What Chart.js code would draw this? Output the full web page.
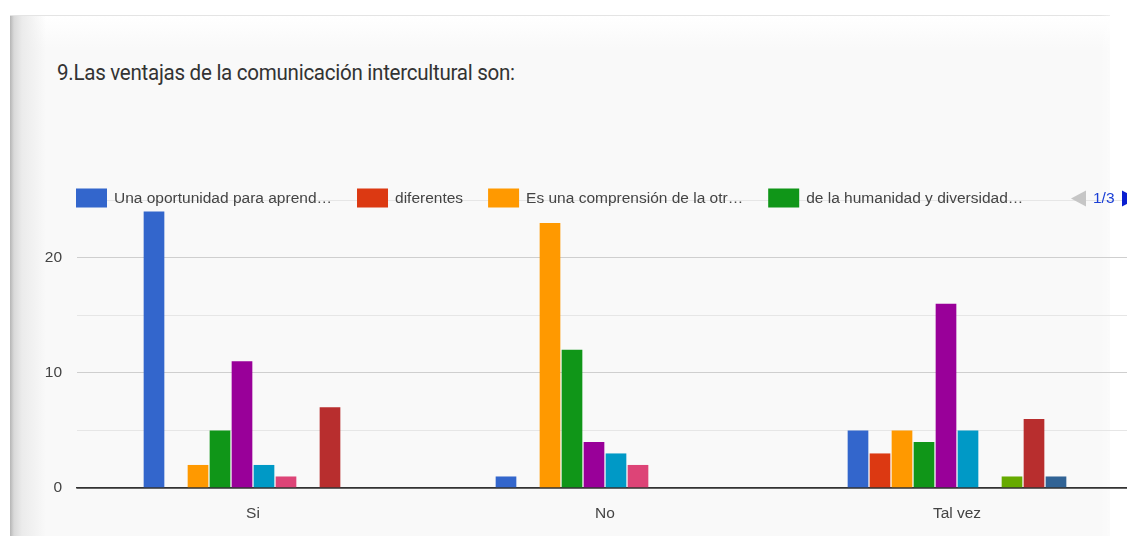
<!DOCTYPE html>
<html>
<head>
<meta charset="utf-8">
<script src="https://cdn.jsdelivr.net/npm/chart.js@4/dist/chart.umd.min.js"></script>
<style>
  html, body { margin: 0; padding: 0; background: #fff; overflow: hidden; }
  body { width: 1127px; height: 536px; position: relative; }
  .card { position: absolute; left: 10px; top: 15px; width: 1100px; height: 521px;
          background: #f9f9f9; border-top: 1px solid #e4e4e4; }
  .card-top { position: absolute; left: 10px; top: 16px; width: 1100px; height: 32px;
              background: linear-gradient(to bottom, #ffffff, #f9f9f9); }
  .card-left { position: absolute; left: 10px; top: 16px; width: 36px; height: 520px;
               background: linear-gradient(to right, #b5b5b5 0, #d9d9d9 4px, #ebebeb 12px, rgba(249,249,249,0) 36px); }
  .card-right { position: absolute; left: 1100px; top: 15px; width: 27px; height: 521px;
                background: linear-gradient(to right, rgba(255,255,255,0), #fff); }
  h1 { position: absolute; left: 57px; top: 60px; margin: 0; font: 400 22px Roboto, sans-serif;
       color: #333; letter-spacing: -0.3px; transform: scaleX(0.935); transform-origin: left center;
       white-space: nowrap; }
  canvas { position: absolute; left: 0; top: 0; }
</style>
</head>
<body>
<div class="card"></div>
<div class="card-top"></div>
<div class="card-left"></div>
<div class="card-right"></div>
<h1>9.Las ventajas de la comunicación intercultural son:</h1>
<canvas id="chart" width="1133" height="536"></canvas>
<script>
// categories on the x axis
const categories = ['Si', 'No', 'Tal vez'];

// legend labels (only page 1/3 is visible in the original)
const seriesLabels = [
  'Una oportunidad para aprend…',
  'diferentes',
  'Es una comprensión de la otr…',
  'de la humanidad y diversidad…',
  'Opción 5', 'Opción 6', 'Opción 7', 'Opción 8', 'Opción 9', 'Opción 10'
];

// counts per series, in order Si / No / Tal vez
const s1 = [24, 1, 5];
const s2 = [0, 0, 3];
const s3 = [2, 23, 5];
const s4 = [5, 12, 4];
const s5 = [11, 4, 16];
const s6 = [2, 3, 5];
const s7 = [1, 2, 0];
const s8 = [0, 0, 1];
const s9 = [7, 0, 6];
const s10 = [0, 0, 1];
const seriesValues = [s1, s2, s3, s4, s5, s6, s7, s8, s9, s10];

const colors = ['#3366cc', '#dc3912', '#ff9900', '#109618', '#990099',
                '#0099c6', '#dd4477', '#66aa00', '#b82e2e', '#316395'];

const yTicksShown = [0, 10, 20];

// google-style paged legend, drawn over the top gridline
const pagedLegend = {
  id: 'pagedLegend',
  afterDatasetsDraw(chart) {
    const ctx = chart.ctx;
    const y = 198.5;
    let x = 76;
    ctx.save();
    ctx.font = '15.5px Arial, "Liberation Sans", sans-serif';
    ctx.textBaseline = 'middle';
    chart.data.datasets.slice(0, 4).forEach(ds => {
      ctx.fillStyle = ds.backgroundColor;
      ctx.fillRect(x, y - 10, 31, 19);
      ctx.fillStyle = '#444';
      ctx.fillText(ds.label, x + 38, y);
      x += 38 + ctx.measureText(ds.label).width + 25;
    });
    // pager
    ctx.fillStyle = '#c6c6c6';
    ctx.beginPath();
    ctx.moveTo(1071, y);
    ctx.lineTo(1086, y - 8);
    ctx.lineTo(1086, y + 8);
    ctx.closePath();
    ctx.fill();
    ctx.fillStyle = '#1a3fd6';
    ctx.fillText('1/3', 1093, y);
    ctx.fillStyle = '#0a1fd0';
    ctx.beginPath();
    ctx.moveTo(1122, y - 8);
    ctx.lineTo(1137, y);
    ctx.lineTo(1122, y + 8);
    ctx.closePath();
    ctx.fill();
    ctx.restore();
  }
};

new Chart(document.getElementById('chart'), {
  type: 'bar',
  data: {
    labels: categories,
    datasets: seriesValues.map((vals, i) => ({
      label: seriesLabels[i],
      data: vals,
      backgroundColor: colors[i],
      borderWidth: 0,
      categoryPercentage: 0.625,
      barPercentage: 0.94
    }))
  },
  options: {
    responsive: false,
    animation: false,
    layout: { padding: { top: 200, left: 0, right: 0, bottom: 0 } },
    plugins: {
      legend: { display: false },
      title: { display: false },
      tooltip: { enabled: false }
    },
    scales: {
      x: {
        grid: { display: false },
        border: { display: true, color: '#333', width: 1.5 },
        ticks: {
          color: '#444',
          padding: 8,
          font: { family: 'Arial, "Liberation Sans", sans-serif', size: 15.5 }
        },
        afterFit(scale) { scale.height = 48; }
      },
      y: {
        min: 0,
        max: 25,
        border: { display: false },
        grid: {
          drawTicks: false,
          color: c => {
            const v = c.tick.value;
            if (v === 0) return '#333';
            return yTicksShown.includes(v) ? '#cfcfcf' : '#e6e6e6';
          },
          lineWidth: c => (c.tick.value === 0 ? 1.5 : 1)
        },
        ticks: {
          stepSize: 5,
          padding: 15,
          color: '#444',
          font: { family: 'Arial, "Liberation Sans", sans-serif', size: 15.5 },
          callback: v => (yTicksShown.includes(v) ? String(v) : '')
        },
        afterFit(scale) { scale.width = 77; }
      }
    }
  },
  plugins: [pagedLegend]
});
</script>
</body>
</html>
